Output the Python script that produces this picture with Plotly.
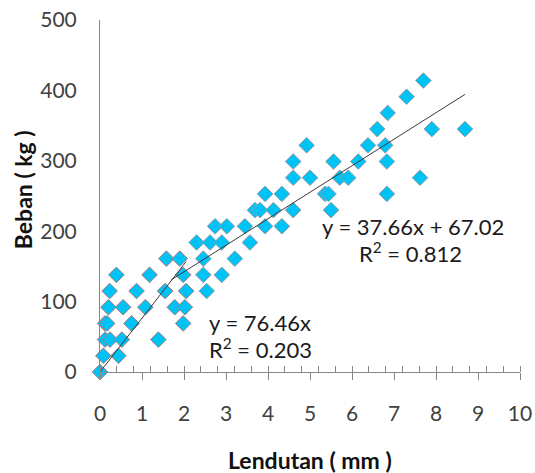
import plotly.graph_objects as go

# lendutan (mm) vs beban (kg), tahap awal
x_awal = [0, 0.08, 0.44, 0.12, 0.24, 0.52, 1.39, 0.12, 0.17, 0.75, 1.98,
          0.2, 0.55, 1.08, 1.78, 2.02, 0.23, 0.87, 1.55, 2.05, 0.39, 1.18, 1.98,
          1.58, 1.9]
y_awal = [0, 23, 23, 46, 46, 46, 46, 69, 69, 69, 69,
          92, 92, 92, 92, 92, 115, 115, 115, 115, 138, 138, 138,
          161, 161]

# tahap lanjut
x_lanjut = [2.54, 2.46, 2.9, 2.46, 3.21, 2.3, 2.62, 2.9, 3.57,
            2.74, 3.02, 3.45, 3.93, 4.33, 3.69, 3.81, 4.13, 4.6, 5.5,
            3.93, 4.33, 5.36, 5.44, 6.83, 4.6, 5.0, 5.71, 5.91, 7.62,
            4.6, 5.56, 6.15, 6.83, 4.92, 6.38, 6.79, 6.6, 7.9, 8.69,
            6.85, 7.3, 7.7]
y_lanjut = [115, 138, 138, 161, 161, 184, 184, 184, 184,
            207, 207, 207, 207, 207, 230, 230, 230, 230, 230,
            253, 253, 253, 253, 253, 276, 276, 276, 276, 276,
            299, 299, 299, 299, 322, 322, 322, 345, 345, 345,
            368, 391, 414]

# trendline (Excel)
slope1, icpt1 = 76.46, 0.0
slope2, icpt2 = 37.66, 67.02
tx1 = [0, 2.05]
tx2 = [1.7, 8.69]

fill = '#00C3F5'
fig = go.Figure()
fig.add_trace(go.Scatter(x=x_awal, y=y_awal, mode='markers', cliponaxis=False,
                         marker=dict(symbol='diamond', size=12, color=fill,
                                     line=dict(color='#B07878', width=1))))
fig.add_trace(go.Scatter(x=x_lanjut, y=y_lanjut, mode='markers', cliponaxis=False,
                         marker=dict(symbol='diamond', size=12, color=fill,
                                     line=dict(color='#9A9AA2', width=1))))
fig.add_trace(go.Scatter(x=tx1, y=[slope1 * v + icpt1 for v in tx1], mode='lines',
                         line=dict(color='#3a3a3a', width=1)))
fig.add_trace(go.Scatter(x=tx2, y=[slope2 * v + icpt2 for v in tx2], mode='lines',
                         line=dict(color='#3a3a3a', width=1)))

txt = dict(family='Lato, Arial', size=22, color='#1a1a1a')
notes = [(5.31, 207, 'y = 37.66x + 67.02'), (6.19, 170, 'R<sup>2</sup> = 0.812'),
         (2.62, 71, 'y = 76.46x'), (2.62, 34, 'R<sup>2</sup> = 0.203')]
for ax, ay, t in notes:
    fig.add_annotation(x=ax, y=ay, text=t, showarrow=False, xanchor='left',
                       yanchor='middle', font=txt, xshift=-3)

# judul sumbu
fig.add_annotation(x=0.499, y=-0.25, xref='paper', yref='paper', showarrow=False,
                   text='<b>Lendutan ( mm )</b>', xanchor='center', yanchor='middle',
                   font=dict(family='Lato, Arial', size=23, color='#111111'))
fig.add_annotation(x=-0.183, y=0.517, xref='paper', yref='paper', showarrow=False,
                   text='<b>Beban ( kg )</b>', textangle=-90,
                   xanchor='center', yanchor='middle',
                   font=dict(family='Lato, Arial', size=23, color='#111111'))

fig.update_layout(
    width=535, height=473, showlegend=False,
    plot_bgcolor='white', paper_bgcolor='white',
    margin=dict(l=100, r=15, t=20, b=101),
    font=dict(family='Lato, Arial', size=21, color='#404040'),
)
fig.update_xaxes(range=[0, 10], dtick=1, tick0=0, showgrid=False, zeroline=False,
                 automargin=False,
                 showline=True, linecolor='#868686', linewidth=1,
                 ticks='outside', ticklen=7, tickcolor='#868686',
                 ticklabelstandoff=16,
                 minor=dict(dtick=0.4, tick0=0, ticks='inside', ticklen=6,
                            tickcolor='#868686', showgrid=False))
fig.update_yaxes(range=[0, 500], dtick=100, showgrid=False, zeroline=False,
                 automargin=False,
                 showline=True, linecolor='#868686', linewidth=1, ticks='',
                 ticklabelstandoff=18)

# margin bawaan <body> dibuang supaya gambar pas di jendela
fig.write_html('out.html', config={'displayModeBar': False},
               post_script="document.body.style.margin='0';")
